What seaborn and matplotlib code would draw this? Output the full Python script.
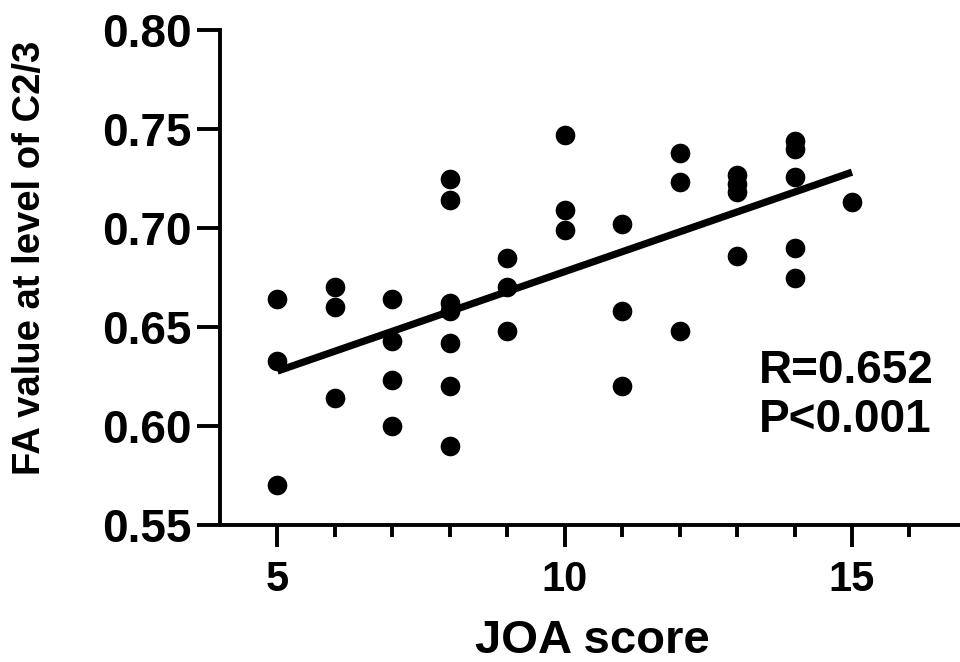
import numpy as np
import pandas as pd
import matplotlib
matplotlib.use("Agg")
import matplotlib.pyplot as plt
from matplotlib.ticker import FixedLocator, FormatStrFormatter
import seaborn as sns

# Data
joa_score = [5, 5, 5,
             6, 6, 6,
             7, 7, 7, 7,
             8, 8, 8, 8, 8, 8, 8,
             9, 9, 9,
             10, 10, 10,
             11, 11, 11,
             12, 12, 12,
             13, 13, 13, 13,
             14, 14, 14, 14, 14,
             15]
fa_value = [0.664, 0.633, 0.570,
            0.670, 0.660, 0.614,
            0.664, 0.643, 0.623, 0.600,
            0.725, 0.714, 0.662, 0.658, 0.642, 0.620, 0.590,
            0.685, 0.670, 0.648,
            0.747, 0.709, 0.699,
            0.702, 0.658, 0.620,
            0.738, 0.723, 0.648,
            0.727, 0.722, 0.718, 0.686,
            0.744, 0.740, 0.726, 0.690, 0.675,
            0.713]
x_major_ticks = [5, 10, 15]
x_minor_ticks = [6, 7, 8, 9, 11, 12, 13, 14, 16]
y_ticks = [0.55, 0.60, 0.65, 0.70, 0.75, 0.80]
x_label = "JOA score"
y_label = "FA value at level of C2/3"
stats_lines = ["R=0.652", "P<0.001"]

df = pd.DataFrame({"JOA": joa_score, "FA": fa_value})

sns.set_style("ticks")
plt.rcParams["font.family"] = ["Liberation Sans", "DejaVu Sans"]
plt.rcParams["font.weight"] = "bold"
plt.rcParams["text.color"] = "black"
plt.rcParams["axes.labelcolor"] = "black"
plt.rcParams["xtick.color"] = "black"
plt.rcParams["ytick.color"] = "black"

fig = plt.figure(figsize=(9.6, 6.62), dpi=100)
ax = fig.add_axes([220 / 960, 137 / 662, 740 / 960, 495 / 662])

sns.regplot(data=df, x="JOA", y="FA", ax=ax, ci=None, truncate=True,
            color="black",
            scatter_kws={"s": 200, "linewidths": 0, "alpha": 1},
            line_kws={"lw": 5.2, "solid_capstyle": "butt"})

ax.set_xlim(4, 16.88)
ax.set_ylim(0.55, 0.80)
ax.xaxis.set_major_locator(FixedLocator(x_major_ticks))
ax.xaxis.set_minor_locator(FixedLocator(x_minor_ticks))
ax.yaxis.set_major_locator(FixedLocator(y_ticks))
ax.yaxis.set_major_formatter(FormatStrFormatter("%.2f"))

for side in ["top", "right"]:
    ax.spines[side].set_visible(False)
for side in ["left", "bottom"]:
    ax.spines[side].set_linewidth(2.8)
    ax.spines[side].set_color("black")

ax.tick_params(axis="x", which="major", length=16, width=2.8, pad=9,
               labelsize=30, colors="black", labelcolor="black")
ax.tick_params(axis="x", which="minor", length=8.5, width=2.8, colors="black")
ax.tick_params(axis="y", which="major", length=16.5, width=2.8, pad=4,
               labelsize=33, colors="black", labelcolor="black")
for lab in ax.get_xticklabels() + ax.get_yticklabels():
    lab.set_fontweight("bold")

ax.set_xlabel(x_label, fontsize=34, fontweight="bold", color="black")
ax.set_ylabel(y_label, fontsize=27.5, fontweight="bold", color="black")
ax.xaxis.set_label_coords(0.503, -0.19)
ax.yaxis.set_label_coords(-0.232, 0.54)

ax.text(0.728, 0.287, stats_lines[0], transform=ax.transAxes, fontsize=33,
        fontweight="bold", ha="left", va="baseline", color="black")
ax.text(0.728, 0.188, stats_lines[1], transform=ax.transAxes, fontsize=33,
        fontweight="bold", ha="left", va="baseline", color="black")

fig.savefig("out.png", dpi=100)
